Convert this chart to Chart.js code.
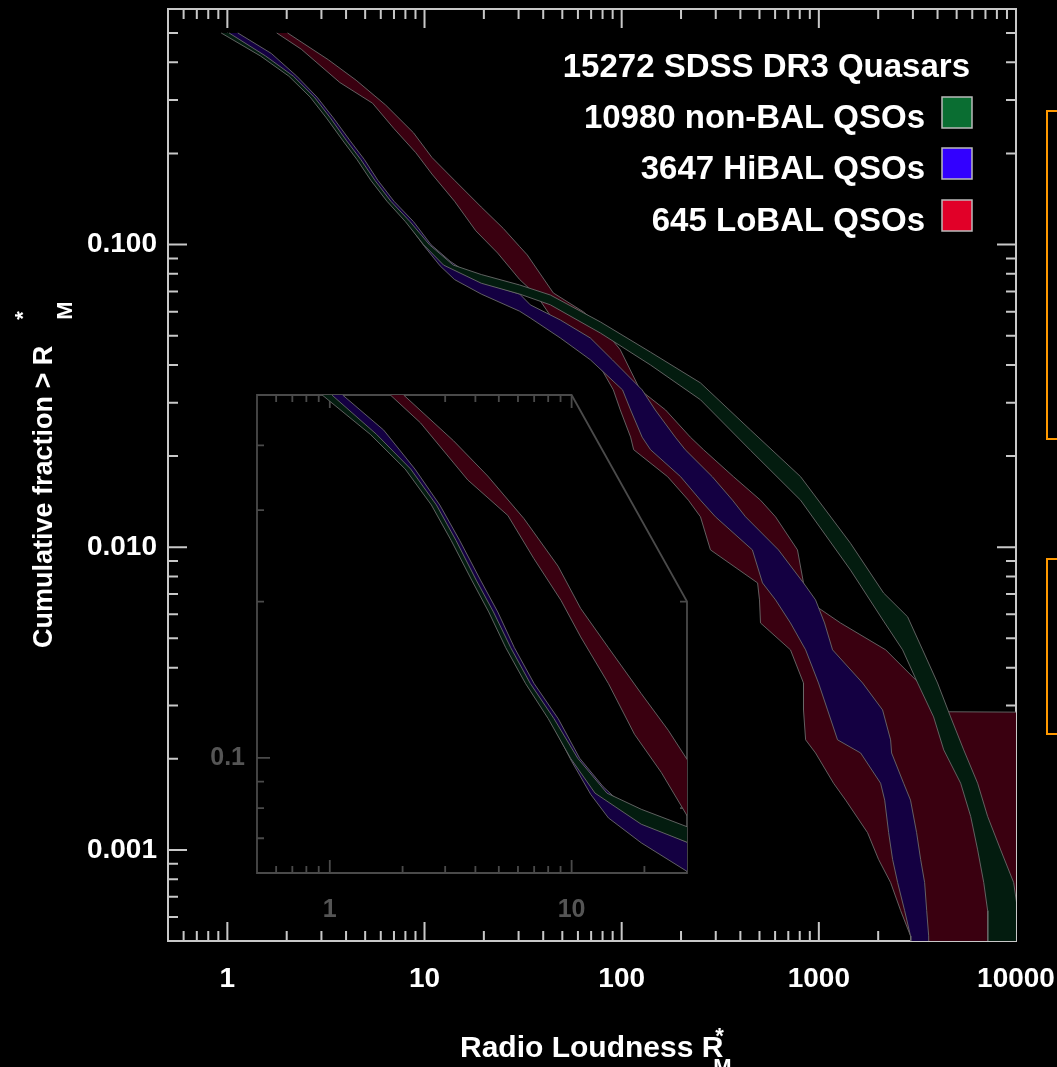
<!DOCTYPE html>
<html>
<head>
<meta charset="utf-8">
<script src="https://cdn.jsdelivr.net/npm/chart.js@4.4.0/dist/chart.umd.min.js"></script>
<style>
  html, body { margin: 0; padding: 0; background: #000; }
  #wrap { position: relative; width: 1057px; height: 1067px; overflow: hidden; background: #000; }
  #main { position: absolute; left: 0; top: 0; }
  #inset { position: absolute; left: 190px; top: 390px; }
  .box { position: absolute; border: 2px solid #ff9900; }
</style>
</head>
<body>
<div id="wrap">
  <canvas id="main" width="1057" height="1067"></canvas>
  <canvas id="inset" width="510" height="540"></canvas>
  <div class="box" style="left:1046px;top:110px;width:40px;height:326px"></div>
  <div class="box" style="left:1046px;top:558px;width:40px;height:173px"></div>
</div>
<script>
// Tick labels
const xTickLabels = ['1', '10', '100', '1000', '10000'];
const yTickLabels = ['0.100', '0.010', '0.001'];
const insetXTickLabels = ['1', '10'];
const insetYTickLabels = ['0.1'];

const legendTitle = '15272 SDSS DR3 Quasars';
const seriesNames = ['10980 non-BAL QSOs', '3647 HiBAL QSOs', '645 LoBAL QSOs'];

// Bands: [R*, cumulative fraction] along the lower and upper edge
const nonBalLower = [[0.93,0.5],[1.47,0.42],[2.05,0.36],[2.63,0.307],[3.18,0.262],[3.86,0.22],[4.54,0.191],
  [5.34,0.163],[6.45,0.139],[8.0,0.119],[9.9,0.0998],[12.5,0.0855],[19.4,0.0745],[30.4,0.0686],[43.5,0.0632],
  [78,0.051],[140,0.04],[251,0.0307],[450,0.0209],[808,0.0143],[1448,0.0084],[2130,0.0057],[2660,0.00458],
  [3170,0.00356],[3820,0.00275],[4300,0.00214],[5240,0.00166],[5890,0.00129],[6390,0.001],[6860,0.00078],
  [7180,0.00063],[7200,0.0001],[12000,0.0001]];
const nonBalUpper = [[1.02,0.5],[1.56,0.42],[2.16,0.36],[2.76,0.307],[3.33,0.262],[4.03,0.22],[4.75,0.191],
  [5.6,0.163],[6.75,0.139],[8.45,0.119],[10.6,0.0998],[14.0,0.0855],[19.4,0.0796],[30.4,0.0735],[43.5,0.0681],
  [78,0.0555],[140,0.0441],[251,0.0349],[450,0.0244],[808,0.0171],[1448,0.0103],[2130,0.00706],[2819,0.00589],
  [3360,0.00458],[4000,0.00356],[4660,0.00275],[5430,0.00214],[6390,0.00166],[7180,0.00129],[8360,0.001],
  [9730,0.00078],[10200,0.00063],[12000,0.0005]];

const hiBalLower = [[1.0,0.5],[1.52,0.42],[2.1,0.36],[2.7,0.307],[3.25,0.262],[3.95,0.22],[4.6,0.191],
  [5.4,0.163],[6.5,0.139],[8.1,0.119],[10.0,0.0985],[12.0,0.085],[14.2,0.0766],[19.4,0.0686],[30.4,0.0602],
  [34.4,0.0572],[48.9,0.0491],[69.4,0.0416],[101,0.0331],[111,0.0284],[127,0.0231],[140,0.021],[199,0.0171],
  [251,0.0143],[299,0.0126],[460,0.0098],[518,0.00762],[603,0.0067],[718,0.00562],[857,0.00458],[996,0.00356],
  [1107,0.0029],[1244,0.00231],[1629,0.00209],[2057,0.00166],[2158,0.00146],[2260,0.00114],[2366,0.00093],
  [2510,0.00078],[2723,0.00063],[2917,0.00052],[2930,0.0001]];
const hiBalUpper = [[1.13,0.5],[1.67,0.428],[2.25,0.36],[2.85,0.307],[3.45,0.262],[4.2,0.22],[4.95,0.191],
  [5.8,0.163],[7.0,0.139],[8.8,0.119],[10.8,0.0998],[13.5,0.088],[19.4,0.0751],[30.4,0.0686],[34.4,0.0632],
  [48.9,0.0563],[69.4,0.0491],[89.7,0.0416],[127,0.0331],[148,0.0284],[187,0.0231],[210,0.021],[288,0.0171],
  [365,0.0143],[425,0.0126],[624,0.0098],[836,0.00762],[962,0.0067],[1069,0.00562],[1174,0.00458],
  [1667,0.00356],[2105,0.0029],[2312,0.00231],[2339,0.00209],[2692,0.00166],[2917,0.00146],[3133,0.00114],
  [3283,0.00093],[3440,0.00078],[3524,0.00063],[3606,0.00052],[3700,0.0001]];

const loBalLower = [[1.78,0.5],[2.37,0.442],[3.72,0.343],[5.45,0.293],[6.98,0.242],[9.04,0.201],[10.9,0.171],
  [14.2,0.139],[18.2,0.111],[23.5,0.0937],[30.4,0.0766],[37,0.068],[48.9,0.052],[69.4,0.045],[90.7,0.0331],
  [98.4,0.0284],[111,0.0231],[115,0.021],[171,0.0171],[218,0.0143],[251,0.0126],[282,0.0098],[489,0.00762],
  [500,0.0067],[506,0.00562],[718,0.00458],[836,0.00356],[836,0.0029],[857,0.00231],[962,0.00209],
  [1188,0.00166],[1368,0.00146],[1766,0.00114],[2009,0.00093],[2312,0.00078],[2600,0.00063],[2917,0.00052],
  [2930,0.0001],[12000,0.0001]];
const loBalUpper = [[2.02,0.5],[3.25,0.408],[4.5,0.349],[6.35,0.289],[8.79,0.234],[10.9,0.194],[14.2,0.163],
  [19.4,0.133],[25.1,0.113],[30.4,0.0984],[33.2,0.0924],[45,0.0692],[64,0.0599],[80,0.053],[98.4,0.0449],
  [124,0.0331],[167,0.0284],[223,0.0231],[260,0.021],[369,0.0171],[506,0.0143],[603,0.0126],[779,0.0098],
  [836,0.00762],[867,0.0067],[1288,0.00562],[2183,0.00458],[3300,0.0035],[4395,0.00286],[12000,0.00285]];

const FONT = '"Liberation Sans", Arial, sans-serif';

// Closed polygon: lower edge down, upper edge back up
function band(lower, upper, color) {
  const pts = lower.concat(upper.slice().reverse()).map(p => ({ x: p[0], y: p[1] }));
  return {
    data: pts,
    showLine: true,
    fill: 'shape',
    backgroundColor: color,
    borderColor: 'rgba(105,105,105,0.9)',
    borderWidth: 1,
    pointRadius: 0,
    tension: 0
  };
}

function makeDatasets() {
  // index 0 is drawn on top
  return [
    band(nonBalLower, nonBalUpper, 'rgb(3,28,15)'),
    band(hiBalLower, hiBalUpper, 'rgb(20,0,66)'),
    band(loBalLower, loBalUpper, 'rgb(58,0,16)')
  ];
}

// 1..9 x 10^k steps inside (min, max)
function logSteps(min, max) {
  const out = [];
  for (let e = Math.floor(Math.log10(min)); e < Math.log10(max); e++) {
    for (let m = 1; m <= 9; m++) {
      const v = +(m * Math.pow(10, e)).toPrecision(6);
      if (v > min * 1.001 && v < max / 1.001) out.push({ v, major: m === 1 });
    }
  }
  return out;
}

// Frame with inward ticks on all sides (optional cut corner for the inset)
function framePlugin(o) {
  return {
    id: 'frame',
    beforeDatasetsDraw(chart) {
      const { ctx, chartArea: a, scales: { x, y } } = chart;
      ctx.save();
      ctx.strokeStyle = o.color;
      ctx.lineWidth = o.width;
      const cx = o.cutX ? x.getPixelForValue(o.cutX) : a.right;
      const cy = o.cutY ? y.getPixelForValue(o.cutY) : a.top;
      ctx.beginPath();
      ctx.moveTo(a.left, a.bottom);
      ctx.lineTo(a.left, a.top);
      ctx.lineTo(cx, a.top);
      ctx.lineTo(a.right, cy);
      ctx.lineTo(a.right, a.bottom);
      ctx.closePath();
      ctx.stroke();

      ctx.beginPath();
      logSteps(x.min, x.max).forEach(t => {
        const p = x.getPixelForValue(t.v), len = t.major ? o.major : o.minor;
        ctx.moveTo(p, a.bottom); ctx.lineTo(p, a.bottom - len);
        if (!o.cutX || t.v <= o.cutX) { ctx.moveTo(p, a.top); ctx.lineTo(p, a.top + len); }
      });
      logSteps(y.min, y.max).forEach(t => {
        const p = y.getPixelForValue(t.v), len = t.major ? o.major : o.minor;
        ctx.moveTo(a.left, p); ctx.lineTo(a.left + len, p);
        if (!o.cutY || t.v <= o.cutY) { ctx.moveTo(a.right, p); ctx.lineTo(a.right - len, p); }
      });
      ctx.stroke();
      ctx.restore();
    }
  };
}

// Legend and axis titles
const textPlugin = {
  id: 'texts',
  afterDraw(chart) {
    const ctx = chart.ctx;
    ctx.save();
    ctx.fillStyle = '#fff';
    ctx.textAlign = 'right';
    ctx.textBaseline = 'alphabetic';
    ctx.font = 'bold 33px ' + FONT;
    ctx.fillText(legendTitle, 970, 77);
    const swatch = ['rgb(10,110,50)', 'rgb(50,0,255)', 'rgb(225,0,40)'];
    const base = [128, 179, 231];
    seriesNames.forEach((name, i) => {
      ctx.fillStyle = '#fff';
      ctx.fillText(name, 925, base[i]);
      ctx.fillStyle = swatch[i];
      ctx.fillRect(942, base[i] - 31, 30, 31);
      ctx.strokeStyle = '#bbb';
      ctx.lineWidth = 1.5;
      ctx.strokeRect(942, base[i] - 31, 30, 31);
    });

    // x title
    ctx.fillStyle = '#fff';
    ctx.textAlign = 'left';
    ctx.font = 'bold 30px ' + FONT;
    const xt = 'Radio Loudness R';
    ctx.fillText(xt, 460, 1057);
    const xw = ctx.measureText(xt).width;
    ctx.font = 'bold 22px ' + FONT;
    ctx.fillText('*', 460 + xw - 8, 1043);
    ctx.fillText('M', 460 + xw - 10, 1074);

    // y title
    ctx.translate(52, 648);
    ctx.rotate(-Math.PI / 2);
    ctx.font = 'bold 27px ' + FONT;
    const yt = 'Cumulative fraction > R';
    ctx.fillText(yt, 0, 0);
    const yw = ctx.measureText(yt).width;
    ctx.font = 'bold 22px ' + FONT;
    ctx.fillText('*', yw + 26, -22);
    ctx.fillText('M', yw + 26, 20);
    ctx.restore();
  }
};

// Force scale boxes so the plot area lands where the reference has it
const fitX = h => s => { s.height = h; s.paddingLeft = 0; s.paddingRight = 0; };
const fitY = w => s => { s.width = w; s.paddingTop = 0; s.paddingBottom = 0; };

new Chart(document.getElementById('main'), {
  type: 'scatter',
  data: { datasets: makeDatasets() },
  options: {
    responsive: false,
    animation: false,
    devicePixelRatio: 1,
    layout: { padding: { left: 0, right: 41, top: 9, bottom: 0 } },
    plugins: { legend: { display: false }, tooltip: { enabled: false } },
    scales: {
      x: {
        type: 'logarithmic', min: 0.5, max: 10000,
        grid: { display: false, drawTicks: false }, border: { display: false },
        afterFit: fitX(126),
        afterBuildTicks: s => { s.ticks = xTickLabels.map(t => ({ value: +t })); },
        ticks: {
          color: '#fff', padding: 21, autoSkip: false, maxRotation: 0,
          font: { family: FONT, size: 28, weight: 'bold' },
          callback: (v, i) => xTickLabels[i]
        }
      },
      y: {
        type: 'logarithmic', min: 0.0005, max: 0.6,
        grid: { display: false, drawTicks: false }, border: { display: false },
        afterFit: fitY(168),
        afterBuildTicks: s => { s.ticks = yTickLabels.map(t => ({ value: +t })); },
        ticks: {
          color: '#fff', padding: 11, autoSkip: false,
          font: { family: FONT, size: 28, weight: 'bold' },
          callback: (v, i) => yTickLabels[i]
        }
      }
    }
  },
  plugins: [framePlugin({ color: '#c8c8c8', width: 2, major: 19, minor: 10 }), textPlugin]
});

// Inset: zoom on the upper-left part
new Chart(document.getElementById('inset'), {
  type: 'scatter',
  data: { datasets: makeDatasets() },
  options: {
    responsive: false,
    animation: false,
    devicePixelRatio: 1,
    layout: { padding: { left: 0, right: 13, top: 5, bottom: 0 } },
    plugins: { legend: { display: false }, tooltip: { enabled: false } },
    scales: {
      x: {
        type: 'logarithmic', min: 0.5, max: 30,
        grid: { display: false, drawTicks: false }, border: { display: false },
        afterFit: fitX(57),
        afterBuildTicks: s => { s.ticks = insetXTickLabels.map(t => ({ value: +t })); },
        ticks: {
          color: '#555', padding: 22, autoSkip: false, maxRotation: 0,
          font: { family: FONT, size: 25, weight: 'bold' },
          callback: (v, i) => insetXTickLabels[i]
        }
      },
      y: {
        type: 'logarithmic', min: 0.06, max: 0.5,
        grid: { display: false, drawTicks: false }, border: { display: false },
        afterFit: fitY(67),
        afterBuildTicks: s => { s.ticks = insetYTickLabels.map(t => ({ value: +t })); },
        ticks: {
          color: '#555', padding: 12, autoSkip: false,
          font: { family: FONT, size: 25, weight: 'bold' },
          callback: (v, i) => insetYTickLabels[i]
        }
      }
    }
  },
  plugins: [framePlugin({ color: '#4a4a4a', width: 1.8, major: 13, minor: 7, cutX: 10, cutY: 0.2 })]
});
</script>
</body>
</html>
